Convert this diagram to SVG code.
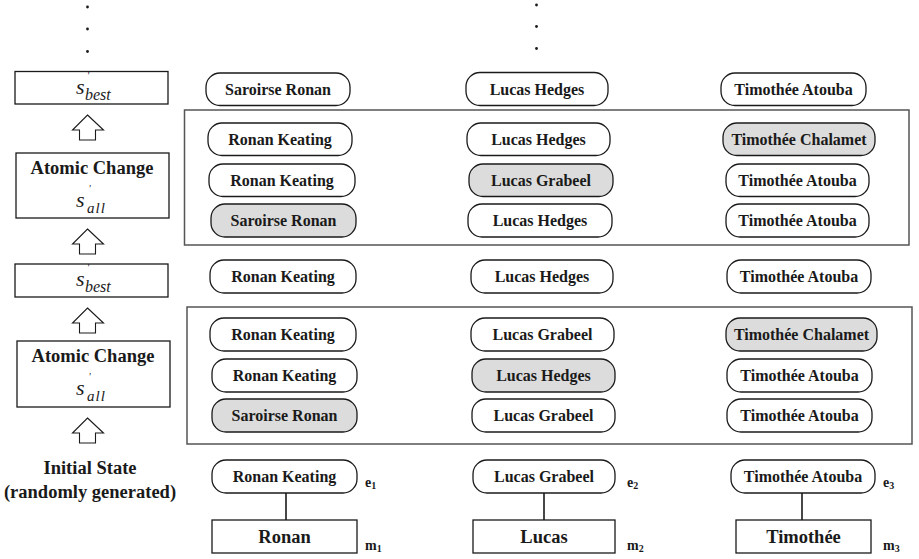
<svg xmlns="http://www.w3.org/2000/svg" width="919" height="559" viewBox="0 0 919 559" font-family="Liberation Serif, DejaVu Serif, serif">
  <defs>
    <style>
      text { font-family: 'Liberation Serif', 'DejaVu Serif', serif; }
      .pill { fill: #ffffff; stroke: #1a1a1a; stroke-width: 1.3; }
      .pill.hl { fill: #dcdcdc; }
      .lbl { font-weight: bold; font-size: 16px; fill: #1a1a1a; text-anchor: middle; }
      .step { fill: #ffffff; stroke: #1a1a1a; stroke-width: 1.3; }
      .frame { fill: none; stroke: #555555; stroke-width: 1.5; }
      .big { font-weight: bold; font-size: 18.5px; fill: #1a1a1a; text-anchor: middle; }
      .sym { font-style: italic; fill: #1a1a1a; }
      .tag { font-weight: bold; font-size: 14px; fill: #1a1a1a; }
      .up { fill: #ffffff; stroke: #1a1a1a; stroke-width: 1.1; stroke-linejoin: miter; }
      .link { stroke: #1a1a1a; stroke-width: 1.6; }
      .dot { fill: #1a1a1a; }
    </style>
    <path id="uparrow" class="up" d="M0,0 L16,15 L8,15 L8,25 L-8,25 L-8,15 L-15,15 Z"/>
  </defs>

  <!-- continuation dots -->
  <g id="dots">
    <circle class="dot" cx="87.5" cy="7" r="1.4"/>
    <circle class="dot" cx="87.5" cy="29" r="1.4"/>
    <circle class="dot" cx="87.5" cy="51.5" r="1.4"/>
    <circle class="dot" cx="536.5" cy="5" r="1.4"/>
    <circle class="dot" cx="536.5" cy="26.5" r="1.4"/>
    <circle class="dot" cx="536.5" cy="48.5" r="1.4"/>
  </g>

  <!-- left column: search steps -->
  <g id="step-best-2">
    <rect class="step" x="15" y="71.5" width="153" height="32.5"/>
    <text class="sym" x="76" y="94" font-size="22">s</text>
    <text class="sym" x="87" y="79" font-size="10">'</text>
    <text class="sym" x="85" y="100" font-size="16">best</text>
  </g>
  <g id="step-change-2">
    <rect class="step" x="16" y="153" width="153" height="65"/>
    <text class="big" x="92" y="174">Atomic Change</text>
    <text class="sym" x="76" y="207" font-size="22">s</text>
    <text class="sym" x="88.5" y="192" font-size="10">'</text>
    <text class="sym" x="87" y="213" font-size="15" letter-spacing="1">all</text>
  </g>
  <g id="step-best-1">
    <rect class="step" x="15" y="264" width="153" height="33"/>
    <text class="sym" x="76" y="286" font-size="22">s</text>
    <text class="sym" x="87" y="271" font-size="10">'</text>
    <text class="sym" x="85" y="292" font-size="16">best</text>
  </g>
  <g id="step-change-1">
    <rect class="step" x="17" y="341" width="153" height="66"/>
    <text class="big" x="93" y="362">Atomic Change</text>
    <text class="sym" x="76" y="395" font-size="22">s</text>
    <text class="sym" x="88.5" y="380" font-size="10">'</text>
    <text class="sym" x="87" y="401" font-size="15" letter-spacing="1">all</text>
  </g>
  <g id="step-initial">
    <text class="big" x="90" y="474">Initial State</text>
    <text class="big" x="90" y="498">(randomly generated)</text>
  </g>

  <!-- hollow up arrows between steps -->
  <g id="step-arrows">
    <use href="#uparrow" x="87.5" y="115"/>
    <use href="#uparrow" x="87.5" y="229"/>
    <use href="#uparrow" x="87.5" y="308"/>
    <use href="#uparrow" x="87.5" y="418"/>
  </g>

  <!-- candidate frames -->
  <g id="frame-2"><rect class="frame" x="184.5" y="110" width="724.5" height="135"/></g>
  <g id="frame-1"><rect class="frame" x="187" y="307" width="725" height="137"/></g>

  <!-- row: s'best (second) -->
  <g id="r2-best-c1"><rect class="pill" x="206" y="73" width="144" height="32.5" rx="14"/><text class="lbl" x="278" y="94.5">Saroirse Ronan</text></g>
  <g id="r2-best-c2"><rect class="pill" x="466" y="72.5" width="142" height="33" rx="14"/><text class="lbl" x="537" y="94.5">Lucas Hedges</text></g>
  <g id="r2-best-c3"><rect class="pill" x="721" y="73" width="145" height="32.5" rx="14"/><text class="lbl" x="793.5" y="94.5">Timothée Atouba</text></g>

  <!-- frame 2 rows -->
  <g id="r2-a-c1"><rect class="pill" x="208" y="123" width="144" height="32.5" rx="14"/><text class="lbl" x="280" y="144.5">Ronan Keating</text></g>
  <g id="r2-a-c2"><rect class="pill" x="467" y="123" width="143" height="32.5" rx="14"/><text class="lbl" x="538.5" y="144.5">Lucas Hedges</text></g>
  <g id="r2-a-c3"><rect class="pill hl" x="723" y="123" width="152" height="32.5" rx="14"/><text class="lbl" x="799" y="144.5">Timothée Chalamet</text></g>

  <g id="r2-b-c1"><rect class="pill" x="209" y="164" width="146" height="32.5" rx="14"/><text class="lbl" x="282" y="185.5">Ronan Keating</text></g>
  <g id="r2-b-c2"><rect class="pill hl" x="469" y="164" width="144" height="32.5" rx="14"/><text class="lbl" x="541" y="185.5">Lucas Grabeel</text></g>
  <g id="r2-b-c3"><rect class="pill" x="726" y="164" width="143" height="32.5" rx="14"/><text class="lbl" x="797.5" y="185.5">Timothée Atouba</text></g>

  <g id="r2-c-c1"><rect class="pill hl" x="211" y="204" width="145" height="33" rx="14"/><text class="lbl" x="283.5" y="226">Saroirse Ronan</text></g>
  <g id="r2-c-c2"><rect class="pill" x="468" y="204" width="144" height="33" rx="14"/><text class="lbl" x="540" y="226">Lucas Hedges</text></g>
  <g id="r2-c-c3"><rect class="pill" x="726" y="204" width="143" height="33" rx="14"/><text class="lbl" x="797.5" y="226">Timothée Atouba</text></g>

  <!-- row: s'best (first) -->
  <g id="r1-best-c1"><rect class="pill" x="210" y="260" width="146" height="33" rx="14"/><text class="lbl" x="283" y="282">Ronan Keating</text></g>
  <g id="r1-best-c2"><rect class="pill" x="471" y="260" width="142" height="33" rx="14"/><text class="lbl" x="542" y="282">Lucas Hedges</text></g>
  <g id="r1-best-c3"><rect class="pill" x="727" y="260" width="144" height="33" rx="14"/><text class="lbl" x="799" y="282">Timothée Atouba</text></g>

  <!-- frame 1 rows -->
  <g id="r1-a-c1"><rect class="pill" x="210" y="318" width="146" height="33" rx="14"/><text class="lbl" x="283" y="340">Ronan Keating</text></g>
  <g id="r1-a-c2"><rect class="pill" x="471" y="318" width="143" height="33" rx="14"/><text class="lbl" x="542.5" y="340">Lucas Grabeel</text></g>
  <g id="r1-a-c3"><rect class="pill hl" x="726" y="318" width="151" height="33" rx="14"/><text class="lbl" x="801.5" y="340">Timothée Chalamet</text></g>

  <g id="r1-b-c1"><rect class="pill" x="212" y="359" width="145" height="33" rx="14"/><text class="lbl" x="284.5" y="381">Ronan Keating</text></g>
  <g id="r1-b-c2"><rect class="pill hl" x="472" y="359" width="143" height="33" rx="14"/><text class="lbl" x="543.5" y="381">Lucas Hedges</text></g>
  <g id="r1-b-c3"><rect class="pill" x="727" y="359" width="145" height="33" rx="14"/><text class="lbl" x="799.5" y="381">Timothée Atouba</text></g>

  <g id="r1-c-c1"><rect class="pill hl" x="212" y="399" width="145" height="33" rx="14"/><text class="lbl" x="284.5" y="421">Saroirse Ronan</text></g>
  <g id="r1-c-c2"><rect class="pill" x="472" y="399" width="143" height="33" rx="14"/><text class="lbl" x="543.5" y="421">Lucas Grabeel</text></g>
  <g id="r1-c-c3"><rect class="pill" x="727" y="399" width="145" height="33" rx="14"/><text class="lbl" x="799.5" y="421">Timothée Atouba</text></g>

  <!-- initial state: entities linked to mentions -->
  <g id="connectors">
    <line class="link" x1="286" y1="493" x2="286" y2="520"/>
    <line class="link" x1="544" y1="493" x2="544" y2="520"/>
    <line class="link" x1="802" y1="493" x2="802" y2="520"/>
  </g>

  <g id="e1"><rect class="pill" x="212" y="460" width="145" height="33" rx="14"/><text class="lbl" x="284.5" y="482">Ronan Keating</text><text class="tag" x="365" y="487">e<tspan font-size="10" dy="2">1</tspan></text></g>
  <g id="e2"><rect class="pill" x="473" y="460" width="142" height="33" rx="14"/><text class="lbl" x="544" y="482">Lucas Grabeel</text><text class="tag" x="627" y="487">e<tspan font-size="10" dy="2">2</tspan></text></g>
  <g id="e3"><rect class="pill" x="731" y="460" width="144" height="33" rx="14"/><text class="lbl" x="803" y="482">Timothée Atouba</text><text class="tag" x="883" y="487">e<tspan font-size="10" dy="2">3</tspan></text></g>

  <g id="m1"><rect class="step" x="212" y="520" width="145" height="33"/><text class="big" x="284.5" y="543">Ronan</text><text class="tag" x="365" y="550">m<tspan font-size="10" dy="2">1</tspan></text></g>
  <g id="m2"><rect class="step" x="473" y="520" width="142" height="33"/><text class="big" x="544" y="543">Lucas</text><text class="tag" x="627" y="550">m<tspan font-size="10" dy="2">2</tspan></text></g>
  <g id="m3"><rect class="step" x="736" y="520" width="135" height="33"/><text class="big" x="803.5" y="543">Timothée</text><text class="tag" x="883" y="550">m<tspan font-size="10" dy="2">3</tspan></text></g>
</svg>
